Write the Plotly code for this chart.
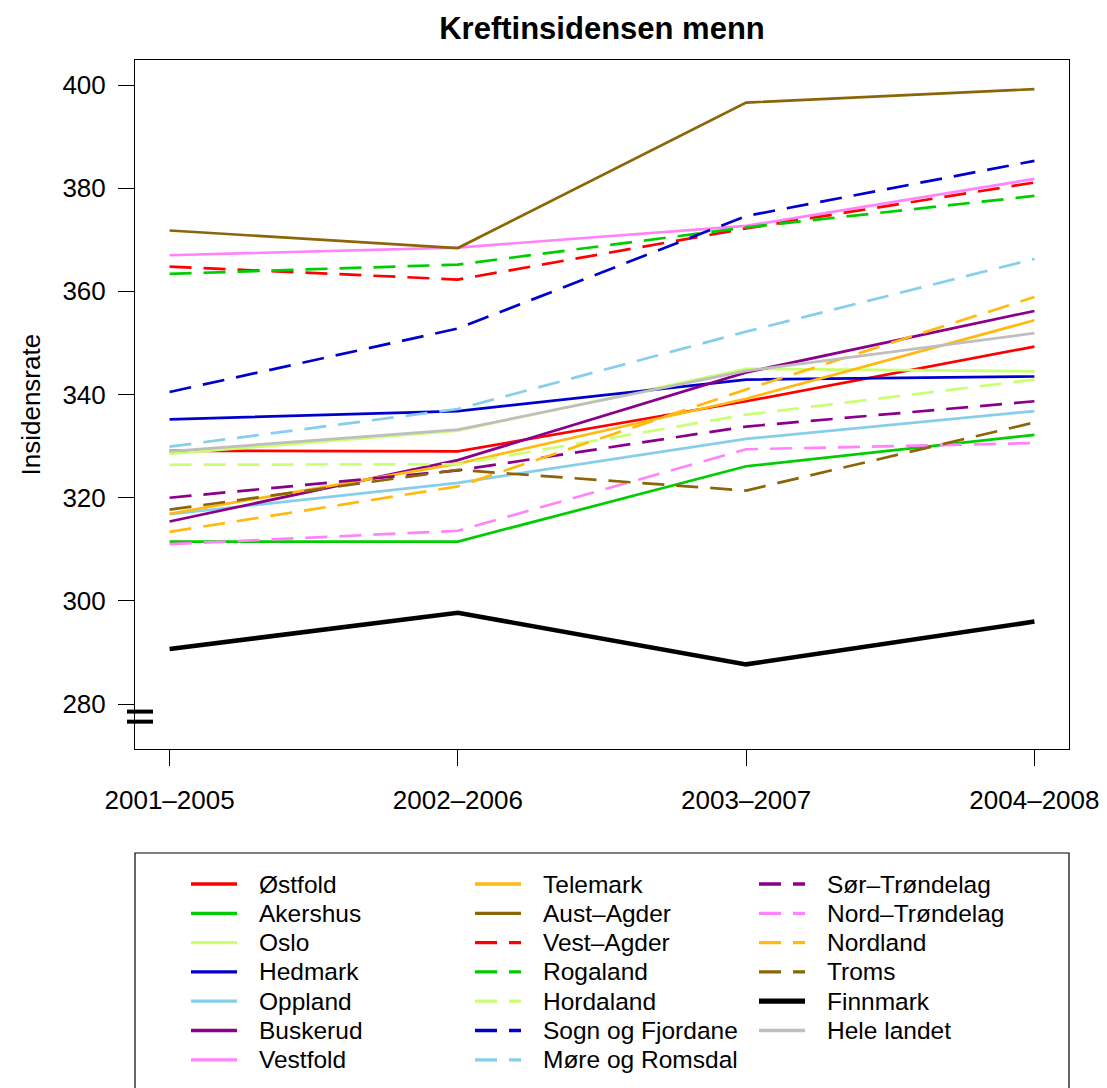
import plotly.graph_objects as go

# ---------------- data ----------------
periods = ["2001–2005", "2002–2006", "2003–2007", "2004–2008"]

ostfold = [329.1, 329.0, 338.7, 349.3]
akershus = [311.5, 311.5, 326.1, 332.2]
oslo = [328.5, 333.0, 345.0, 344.5]
hedmark = [335.2, 336.8, 342.9, 343.5]
oppland = [316.8, 322.9, 331.4, 336.8]
buskerud = [315.4, 327.3, 344.3, 356.2]
vestfold = [367.0, 368.5, 372.7, 381.8]
telemark = [316.9, 326.6, 339.2, 354.4]
aust_agder = [371.8, 368.4, 396.6, 399.2]
vest_agder = [364.8, 362.3, 372.2, 381.1]
rogaland = [363.4, 365.2, 372.4, 378.5]
hordaland = [326.4, 326.5, 336.1, 342.9]
sogn_fjordane = [340.5, 352.8, 374.6, 385.3]
more_romsdal = [329.9, 337.2, 352.2, 366.3]
sor_trondelag = [320.0, 325.3, 333.8, 338.7]
nord_trondelag = [311.0, 313.6, 329.4, 330.6]
nordland = [313.4, 322.2, 341.0, 358.9]
troms = [317.7, 325.4, 321.4, 334.6]
finnmark = [290.7, 297.7, 287.7, 296.0]
hele_landet = [329.0, 333.2, 344.6, 351.9]

names = ["Østfold", "Akershus", "Oslo", "Hedmark", "Oppland", "Buskerud", "Vestfold",
         "Telemark", "Aust–Agder", "Vest–Agder", "Rogaland", "Hordaland",
         "Sogn og Fjordane", "Møre og Romsdal", "Sør–Trøndelag", "Nord–Trøndelag",
         "Nordland", "Troms", "Finnmark", "Hele landet"]
series = [ostfold, akershus, oslo, hedmark, oppland, buskerud, vestfold, telemark,
          aust_agder, vest_agder, rogaland, hordaland, sogn_fjordane, more_romsdal,
          sor_trondelag, nord_trondelag, nordland, troms, finnmark, hele_landet]

y_ticks = [280, 300, 320, 340, 360, 380, 400]

# ---------------- styles ----------------
base_cols = ["#FF0000", "#00CD00", "#CAFF70", "#0000CD", "#87CEEB", "#8B008B",
             "#FF83FA", "#FFB90F", "#8B6508"]
colors = base_cols + base_cols + ["#000000", "#BEBEBE"]
DASH = "22px,12px"
dashes = ["solid"] * 9 + [DASH] * 9 + ["solid", "solid"]
widths = [2.7] * 18 + [4.6, 2.7]

FONT = "Liberation Sans, Arial, Helvetica, sans-serif"
OFF = 8  # page body margin
W, H = 1107 - OFF, 1088 - OFF
ML, MR, MT, MB = 135 - OFF, 38, 60 - OFF, 339
PW, PH = W - ML - MR, H - MT - MB
Y_RANGE = [271.3, 404.85]


def px_x(p):  # page pixel -> paper
    return (p - OFF - ML) / PW


def px_y(p):
    return (H - MB - (p - OFF)) / PH


fig = go.Figure()
for nm, vals, c, d, w in zip(names, series, colors, dashes, widths):
    fig.add_trace(go.Scatter(x=periods, y=vals, mode="lines", name=nm,
                             line=dict(color=c, dash=d, width=w),
                             showlegend=False))

# ---------------- manual legend (R style, 3 columns) ----------------
shapes = []
annotations = []
col_x = [191, 475, 759]
row_y0, row_dy = 884, 29.3
per_col = 7
for i, (nm, c, d, w) in enumerate(zip(names, colors, dashes, widths)):
    col, row = divmod(i, per_col)
    y = px_y(row_y0 + row * row_dy)
    x0 = col_x[col]
    shapes.append(dict(type="line", xref="paper", yref="paper",
                       x0=px_x(x0), x1=px_x(x0 + 46), y0=y, y1=y,
                       line=dict(color=c, dash=d, width=w + 0.6)))
    annotations.append(dict(text=nm, xref="paper", yref="paper", x=px_x(x0 + 66), y=y,
                            xanchor="left", yanchor="middle", showarrow=False,
                            font=dict(family=FONT, size=24.5, color="black")))
# legend box
shapes.append(dict(type="rect", xref="paper", yref="paper", x0=0, x1=1,
                   y0=px_y(1095), y1=px_y(853), line=dict(color="black", width=1.2)))

# axis break marks (two thick bars across the y axis)
for v in [278.55, 276.6]:
    yp = (v - Y_RANGE[0]) / (Y_RANGE[1] - Y_RANGE[0])
    shapes.append(dict(type="line", xref="paper", yref="paper",
                       x0=px_x(127), x1=px_x(153), y0=yp, y1=yp,
                       line=dict(color="black", width=4)))

# y axis title
annotations.append(dict(text="Insidensrate", xref="paper", yref="paper",
                        x=px_x(30), y=0.5, textangle=-90, showarrow=False,
                        xanchor="center", yanchor="middle",
                        font=dict(family=FONT, size=26, color="black")))

fig.update_layout(
    width=W, height=H,
    margin=dict(l=ML, r=MR, t=MT, b=MB, autoexpand=False),
    paper_bgcolor="white", plot_bgcolor="white",
    title=dict(text="Kreftinsidensen menn", x=(ML + PW / 2) / W, xanchor="center",
               y=1 - (28 - OFF) / H, yanchor="middle", yref="container",
               font=dict(family=FONT, size=31, color="black", weight="bold")),
    font=dict(family=FONT, size=26, color="black"),
    shapes=shapes, annotations=annotations,
    showlegend=False,
)
fig.update_xaxes(type="category", range=[-0.12, 3.12], showgrid=False, zeroline=False,
                 showline=True, linecolor="black", linewidth=1, mirror=True,
                 ticks="outside", ticklen=16, tickwidth=1, tickcolor="black",
                 tickfont=dict(family=FONT, size=26), ticklabelstandoff=12,
                 automargin=False)
fig.update_yaxes(range=Y_RANGE, tickvals=y_ticks, showgrid=False, zeroline=False,
                 showline=True, linecolor="black", linewidth=1, mirror=True,
                 ticks="outside", ticklen=16, tickwidth=1, tickcolor="black",
                 tickfont=dict(family=FONT, size=26), ticklabelstandoff=7,
                 automargin=False)

fig.write_html("out.html")
